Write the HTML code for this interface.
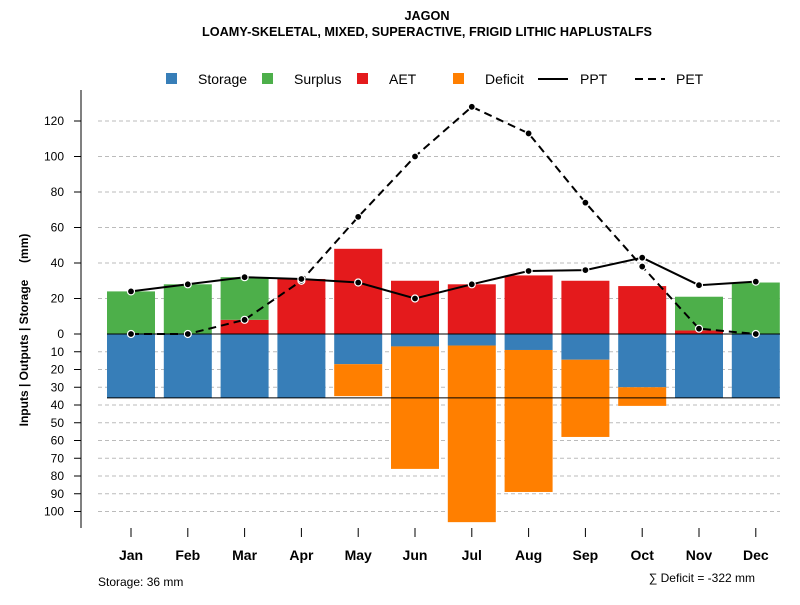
<!DOCTYPE html>
<html><head><meta charset="utf-8"><style>
body{margin:0;background:#fff;font-family:"Liberation Sans",sans-serif;}
svg text{font-family:"Liberation Sans",sans-serif;}
</style></head><body>
<svg id="chart" width="800" height="600" xmlns="http://www.w3.org/2000/svg">
<text x="427" y="20" font-size="12.7" font-weight="bold" text-anchor="middle">JAGON</text>
<text x="427" y="36" font-size="12.7" font-weight="bold" text-anchor="middle">LOAMY-SKELETAL, MIXED, SUPERACTIVE, FRIGID LITHIC HAPLUSTALFS</text>
<g id="legend" font-size="14">
 <g><rect x="166" y="73" width="11" height="11" fill="#377eb8"/><text x="198" y="84">Storage</text></g>
 <g><rect x="262" y="73" width="11" height="11" fill="#4daf4a"/><text x="294" y="84">Surplus</text></g>
 <g><rect x="357" y="73" width="11" height="11" fill="#e41a1c"/><text x="389" y="84">AET</text></g>
 <g><rect x="453" y="73" width="11" height="11" fill="#ff7f00"/><text x="485" y="84">Deficit</text></g>
 <g><line x1="538" y1="79" x2="568" y2="79" stroke="#000" stroke-width="2"/><text x="580" y="84">PPT</text></g>
 <g><line x1="635" y1="79" x2="665" y2="79" stroke="#000" stroke-width="2" stroke-dasharray="8,5"/><text x="676" y="84">PET</text></g>
</g>
<text transform="translate(28,330) rotate(-90)" font-size="12" font-weight="bold" text-anchor="middle" xml:space="preserve">Inputs | Outputs | Storage     (mm)</text>
<text x="98" y="586" font-size="12">Storage: 36 mm</text>
<text x="755" y="582" font-size="12" text-anchor="end">∑ Deficit = -322 mm</text>
<g id="grid"></g><g id="bars"></g><g id="lines"></g><g id="axes"></g>
</svg>
<script>
const months=["Jan","Feb","Mar","Apr","May","Jun","Jul","Aug","Sep","Oct","Nov","Dec"];
const aet=[0,0,8,31,48,30,28,33,30,27,2,0];
const surplus=[24,28,24,0,0,0,0,0,0,0,19,29];
const storage=[36,36,36,36,17,7,6.5,9,14.5,30,36,36];
const deficit=[0,0,0,0,18,69,99.5,80,43.5,10.5,0,0];
const ppt=[24,28,32,31,29,20,28,35.5,36,43,27.5,29.5];
const pet=[0,0,8,30,66,100,128,113,74,38,3,0];
const upTicks=[0,20,40,60,80,100,120];
const downTicks=[10,20,30,40,50,60,70,80,90,100];
const maxStorage=36;
const NS="http://www.w3.org/2000/svg";
const y0=334,k=1.775;
const yUp=v=>y0-v*k, yDown=v=>y0+v*k;
const xC=i=>131+i*56.8, bw=48;
function mk(p,tag,at){const e=document.createElementNS(NS,tag);for(const a in at)e.setAttribute(a,at[a]);document.getElementById(p).appendChild(e);return e;}
upTicks.forEach(v=>{if(v>0){const g=mk("grid","line",{x1:98,x2:780,y1:yUp(v),y2:yUp(v),stroke:"#bbb","stroke-dasharray":"4,3"});

}
const t=mk("axes","text",{x:64,y:yUp(v)+4,"font-size":12,"text-anchor":"end"});t.textContent=v;


mk("axes","line",{x1:74,x2:81,y1:yUp(v),y2:yUp(v),stroke:"#000"});});
downTicks.forEach(v=>{const g=mk("grid","line",{x1:98,x2:780,y1:yDown(v),y2:yDown(v),stroke:"#bbb","stroke-dasharray":"4,3"});


const t=mk("axes","text",{x:64,y:yDown(v)+4,"font-size":12,"text-anchor":"end"});t.textContent=v;


mk("axes","line",{x1:74,x2:81,y1:yDown(v),y2:yDown(v),stroke:"#000"});});
months.forEach((m,i)=>{const x=xC(i)-bw/2;
 let r=mk("bars","rect",{x:x,y:yUp(aet[i]),width:bw,height:aet[i]*k,fill:"#e41a1c"});
 
 
 r=mk("bars","rect",{x:x,y:yUp(aet[i]+surplus[i]),width:bw,height:surplus[i]*k,fill:"#4daf4a"});
 
 
 r=mk("bars","rect",{x:x,y:y0,width:bw,height:storage[i]*k,fill:"#377eb8"});
 
 
 r=mk("bars","rect",{x:x,y:yDown(storage[i]),width:bw,height:deficit[i]*k,fill:"#ff7f00"});
 
 
 const t=mk("axes","text",{x:xC(i),y:560,"font-size":14,"font-weight":"bold","text-anchor":"middle"});t.textContent=m;
 
 
 mk("axes","line",{x1:xC(i),x2:xC(i),y1:528,y2:537,stroke:"#000"});
});
mk("lines","line",{x1:107,x2:780,y1:y0,y2:y0,stroke:"#000"});
mk("lines","line",{x1:107,x2:780,y1:yDown(maxStorage),y2:yDown(maxStorage),stroke:"#000"});
mk("axes","line",{x1:81,x2:81,y1:90,y2:528,stroke:"#000"});
function series(arr,name,dash){const pts=arr.map((v,i)=>xC(i)+","+yUp(v)).join(" ");
 const p=mk("lines","polyline",{points:pts,fill:"none",stroke:"#000","stroke-width":2,"stroke-dasharray":dash});
 
 
 arr.forEach((v,i)=>{const c=mk("lines","circle",{cx:xC(i),cy:yUp(v),r:3.5,fill:"#000",stroke:"#fff","stroke-width":1.2});
 
 });}
series(pet,"pet","8,5");
series(ppt,"ppt","none");
</script>
</body></html>
